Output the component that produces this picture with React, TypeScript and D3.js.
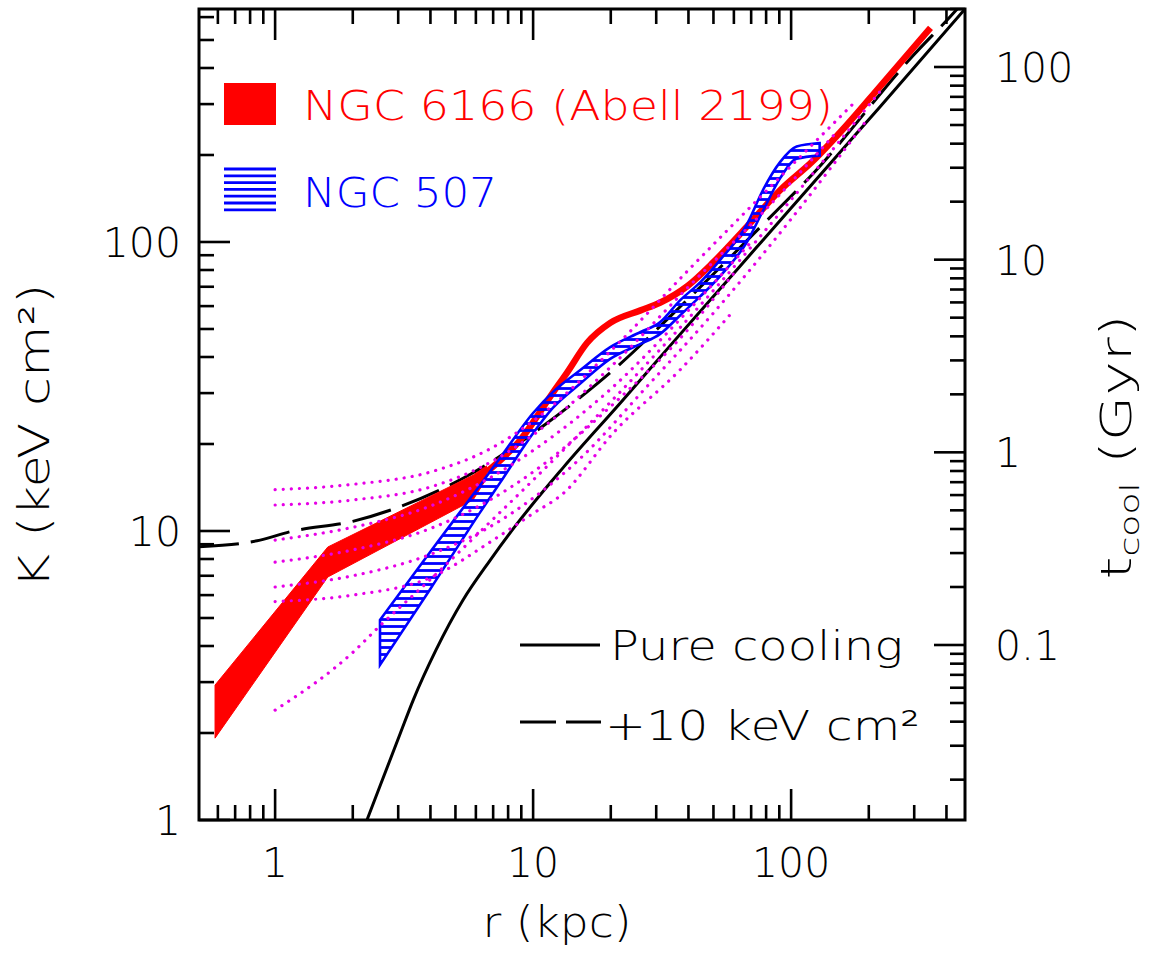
import React from 'react';
import * as d3 from 'd3';

// ---------- layout constants ----------
const W = 1154, H = 953;
const X0 = 199, X1 = 965, Y0 = 9, Y1 = 820;
const FONT = "'DejaVu Sans', sans-serif";

// ---------- axis domains / tick labels ----------
const rDomain: [number, number] = [0.507, 472];
const kDomain: [number, number] = [1, 640];
const tDomain: [number, number] = [0.01235, 200];
const rTickLabels = [1, 10, 100];
const kTickLabels = [1, 10, 100];
const tTickLabels = [0.1, 1, 10, 100];

// ---------- NGC 6166 (red) ----------
const redWideR = [0.585, 1.6, 5.85, 6.6];
const redWideLo = [1.92, 6.93, 12.8, 15.2];
const redWideHi = [2.93, 8.8, 15.6, 16.8];
const redLineR = [6.6, 8.9, 11.9, 13.5, 16.2, 19.9, 26.1, 31.0, 39.5, 49.9, 67.4, 90.6, 121, 165, 221, 347];
const redLineK = [16.0, 20.6, 30, 35.2, 44.8, 52.5, 58.0, 61.6, 70.2, 85, 113, 151, 190, 255, 345, 551];

// ---------- NGC 507 (blue hatched) ----------
const blueR = [2.55, 3.99, 6.23, 7.45, 10, 11.95, 15.2, 19.9, 26.1, 31.0, 37.1, 44.4, 53.0, 67.4, 77.7, 90.6, 105, 129];
const blueLo = [3.44, 6.29, 11.6, 14.7, 21.8, 26.7, 32.3, 39.4, 44.4, 48.0, 55.7, 64.8, 76.1, 100, 128, 166, 194, 199];
const blueHi = [4.92, 8.46, 14.4, 17.9, 25.6, 30.3, 36.0, 43.3, 48.8, 52.7, 62.8, 72.5, 86.6, 115, 151, 189, 214, 220];

// ---------- model curves ----------
const coolR = [2.2, 2.27, 3.06, 3.43, 4.2, 5.35, 6.8, 8.67, 13.1, 22.3, 33, 60, 100, 150, 220, 472];
const coolK = [0.93, 1.0, 2.0, 2.6, 3.87, 5.77, 7.9, 10.6, 16.6, 28.4, 42.5, 78, 131, 198, 292, 640];
const plus10R = [0.507, 0.875, 1.14, 2.0, 2.79, 5.85, 11.3, 14.8, 19.9, 39.5, 80.8, 122, 296, 440, 480];
const plus10K = [8.82, 9.3, 9.94, 10.8, 11.8, 15.9, 23.6, 28.4, 35.3, 63, 119, 173, 440, 640, 700];

// ---------- comparison profiles (magenta dotted) ----------
const m1R = [1, 2, 4, 7, 10, 20, 40, 80, 180];
const m1K = [13.9, 14.5, 16, 19.5, 24, 42, 80, 150, 310];
const m2R = [1, 2, 4, 7, 10, 20, 40, 80, 150];
const m2K = [12.3, 12.8, 14.2, 17.5, 21.5, 37, 70, 130, 240];
const m3R = [1, 2, 4, 7, 10, 20, 40, 70];
const m3K = [9.3, 10.3, 12.2, 15.5, 19, 31, 58, 100];
const m4R = [1, 2, 4, 7, 10, 20, 40, 60];
const m4K = [7.8, 8.6, 10.2, 13, 16, 27, 50, 78];
const m5R = [1, 2, 4, 7, 10, 15, 27.6, 50, 100, 200];
const m5K = [6.4, 7.0, 8.3, 10.5, 13, 17.6, 31.6, 56.8, 120, 270];
const m6R = [1, 2, 4, 7, 10, 13.1, 20.4, 37, 60];
const m6K = [5.7, 6.0, 6.9, 9.3, 11.5, 13.5, 21.8, 36, 58];
const m7R = [1, 2, 2.55, 4, 7, 10, 20, 50, 100, 220];
const m7K = [2.4, 3.8, 4.7, 6.8, 11, 15, 28, 68, 140, 330];
const magentaR = [m1R, m2R, m3R, m4R, m5R, m6R, m7R];
const magentaK = [m1K, m2K, m3K, m4K, m5K, m6K, m7K];

const RED = '#ff0000';
const BLUE = '#0000ff';
const MAGENTA = '#e600e6';

type P = [number, number];
const zip = (a: number[], b: number[]): P[] => a.map((v, i) => [v, b[i]] as P);

export default function App() {
  const x = d3.scaleLog().domain(rDomain).range([X0, X1]);
  const y = d3.scaleLog().domain(kDomain).range([Y1, Y0]);
  const yt = d3.scaleLog().domain(tDomain).range([Y1, Y0]);

  const smooth = d3.line<P>().x(d => x(d[0])).y(d => y(d[1])).curve(d3.curveMonotoneX);
  const bandSmooth = d3.area<number>()
    .x((_, i) => x(blueR[i])).y0((_, i) => y(blueLo[i])).y1((_, i) => y(blueHi[i]))
    .curve(d3.curveMonotoneX);
  const bandLinear = d3.area<number>()
    .x((_, i) => x(redWideR[i])).y0((_, i) => y(redWideLo[i])).y1((_, i) => y(redWideHi[i]))
    .curve(d3.curveLinear);

  const isMajor = (v: number) => Math.abs(Math.log10(v) - Math.round(Math.log10(v))) < 1e-6;
  const xt = x.ticks().filter(v => v >= rDomain[0] && v <= rDomain[1]);
  const kt = y.ticks().filter(v => v >= kDomain[0] && v <= kDomain[1]);
  const tt = yt.ticks().filter(v => v >= tDomain[0] && v <= tDomain[1]);
  const MAJ = 31, MIN = 15;

  const fmt = (v: number) => (v < 1 ? String(v) : String(Math.round(v)));

  return (
    <svg width={W} height={H} style={{ position: 'absolute', left: 0, top: 0, background: '#fff' }}
      fontFamily={FONT} fontWeight={300}>
      <defs>
        <clipPath id="plot"><rect x={X0} y={Y0} width={X1 - X0} height={Y1 - Y0} /></clipPath>
        <pattern id="hatch" patternUnits="userSpaceOnUse" width={12} height={7}>
          <line x1={0} x2={12} y1={3.5} y2={3.5} stroke={BLUE} strokeWidth={2.8} />
        </pattern>
      </defs>
      <rect x={0} y={0} width={W} height={H} fill="#fff" />

      <g clipPath="url(#plot)">
        {/* model curves */}
        <path d={smooth(zip(coolR, coolK)) || ''} fill="none" stroke="#000" strokeWidth={3} />
        <path d={smooth(zip(plus10R, plus10K)) || ''} fill="none" stroke="#000" strokeWidth={3}
          strokeDasharray="40 12" />
        {/* NGC 6166 */}
        <path d={bandLinear(redWideR) || ''} fill={RED} stroke={RED} strokeWidth={1} />
        <path d={smooth(zip(redLineR, redLineK)) || ''} fill="none" stroke={RED} strokeWidth={6.5}
          strokeLinecap="butt" />
        {/* NGC 507 */}
        <path d={bandSmooth(blueR) || ''} fill="url(#hatch)" stroke={BLUE} strokeWidth={2.6} />
        {/* magenta profiles */}
        {magentaR.map((rs, i) => (
          <path key={i} d={smooth(zip(rs, magentaK[i])) || ''} fill="none" stroke={MAGENTA}
            strokeWidth={3.2} strokeDasharray="0.1 8" strokeLinecap="round" />
        ))}
      </g>

      {/* frame */}
      <rect x={X0} y={Y0} width={X1 - X0} height={Y1 - Y0} fill="none" stroke="#000" strokeWidth={3} />

      {/* x ticks (bottom + top) */}
      {xt.map((v, i) => {
        const L = isMajor(v) ? MAJ : MIN;
        return (
          <g key={'x' + i} stroke="#000" strokeWidth={2.6}>
            <line x1={x(v)} x2={x(v)} y1={Y1} y2={Y1 - L} />
            <line x1={x(v)} x2={x(v)} y1={Y0} y2={Y0 + L} />
          </g>
        );
      })}
      {/* left K ticks */}
      {kt.map((v, i) => {
        const L = isMajor(v) ? MAJ : MIN;
        return <line key={'k' + i} x1={X0} x2={X0 + L} y1={y(v)} y2={y(v)} stroke="#000" strokeWidth={2.6} />;
      })}
      {/* right t_cool ticks */}
      {tt.map((v, i) => {
        const L = isMajor(v) ? MAJ : MIN;
        return <line key={'t' + i} x1={X1} x2={X1 - L} y1={yt(v)} y2={yt(v)} stroke="#000" strokeWidth={2.6} />;
      })}

      {/* tick labels */}
      {rTickLabels.map(v => (
        <text key={'xl' + v} x={x(v)} y={877} fontSize={41} textAnchor="middle">{fmt(v)}</text>
      ))}
      {kTickLabels.map(v => (
        <text key={'kl' + v} x={181} y={y(v) + 15} fontSize={41} textAnchor="end">{fmt(v)}</text>
      ))}
      {tTickLabels.map(v => (
        <text key={'tl' + v} x={995} y={yt(v) + 15} fontSize={41} textAnchor="start">{fmt(v)}</text>
      ))}

      {/* axis titles */}
      <text x={557} y={937} fontSize={42} textAnchor="middle" textLength={149} lengthAdjust="spacingAndGlyphs">r (kpc)</text>
      <text transform="translate(49,436) rotate(-90)" fontSize={42} textAnchor="middle"
        textLength={305} lengthAdjust="spacingAndGlyphs">K (keV cm²)</text>
      <text transform="translate(1131,447) rotate(-90)" fontSize={42} textAnchor="middle"
        textLength={265} lengthAdjust="spacingAndGlyphs">
        <tspan>t</tspan><tspan fontSize={26} dy={8}>cool</tspan><tspan dy={-8}>{'  (Gyr)'}</tspan>
      </text>

      {/* legend top-left */}
      <rect x={224} y={83} width={52} height={42} fill={RED} />
      {d3.range(7).map(i => (
        <line key={'h' + i} x1={224} x2={276} y1={169 + i * 6.8} y2={169 + i * 6.8} stroke={BLUE} strokeWidth={2.8} />
      ))}
      <text x={303} y={120} fontSize={40} fill={RED} textLength={530} lengthAdjust="spacingAndGlyphs">NGC 6166 (Abell 2199)</text>
      <text x={303} y={207} fontSize={40} fill={BLUE} textLength={194} lengthAdjust="spacingAndGlyphs">NGC 507</text>

      {/* legend bottom-right */}
      <line x1={520} x2={600} y1={645} y2={645} stroke="#000" strokeWidth={3} />
      <text x={610} y={660} fontSize={40} textLength={293} lengthAdjust="spacingAndGlyphs">Pure cooling</text>
      <line x1={520} x2={556} y1={722} y2={722} stroke="#000" strokeWidth={3} />
      <line x1={566} x2={601} y1={722} y2={722} stroke="#000" strokeWidth={3} />
      <text x={605} y={740} fontSize={40} textLength={315} lengthAdjust="spacingAndGlyphs">+10 keV cm²</text>
    </svg>
  );
}
